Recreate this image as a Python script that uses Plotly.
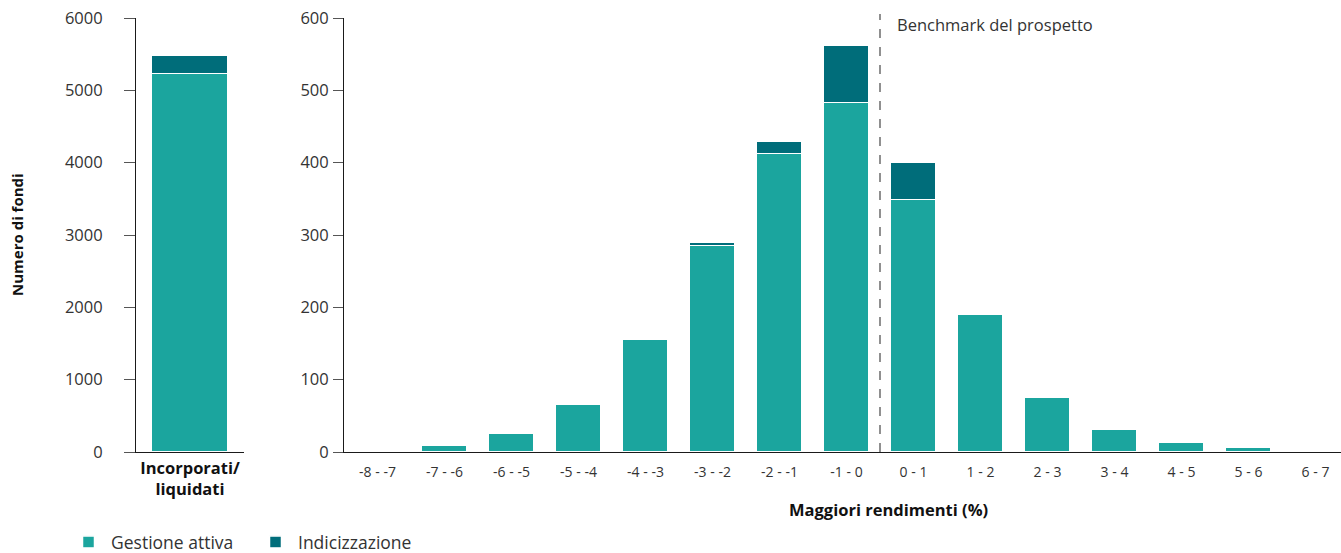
import plotly.graph_objects as go

# ---- data ----
left_category = ["Incorporati/<br>liquidati"]
left_attiva = [5230]
left_indicizzazione = [240]

categories = ["-8 - -7", "-7 - -6", "-6 - -5", "-5 - -4", "-4 - -3", "-3 - -2", "-2 - -1",
              "-1 - 0", "0 - 1", "1 - 2", "2 - 3", "3 - 4", "4 - 5", "5 - 6", "6 - 7"]
attiva = [0, 8, 25, 65, 155, 285, 412, 483, 349, 190, 75, 30, 13, 6, 0]
indicizzazione = [0, 0, 0, 0, 0, 4, 17, 78, 51, 0, 0, 0, 0, 0, 0]

left_ticks = [0, 1000, 2000, 3000, 4000, 5000, 6000]
right_ticks = [0, 100, 200, 300, 400, 500, 600]

GREEN = "#1ba59e"
DARK = "#006d7a"
FONT = "Open Sans"
W, H = 1341, 553
T, B = 18, 101

fig = go.Figure()
fig.add_trace(go.Bar(x=left_category, y=left_attiva, name="Gestione attiva", marker=dict(color=GREEN, line=dict(color="white", width=1.5)),
                     width=0.7, xaxis="x", yaxis="y", showlegend=True, legendgroup="a"))
fig.add_trace(go.Bar(x=left_category, y=left_indicizzazione, name="Indicizzazione", marker=dict(color=DARK, line=dict(color="white", width=1.5)),
                     width=0.7, xaxis="x", yaxis="y", showlegend=True, legendgroup="b"))
fig.add_trace(go.Bar(x=categories, y=attiva, name="Gestione attiva", marker=dict(color=GREEN, line=dict(color="white", width=1.5)),
                     width=0.67, xaxis="x2", yaxis="y2", showlegend=False, legendgroup="a"))
fig.add_trace(go.Bar(x=categories, y=indicizzazione, name="Indicizzazione", marker=dict(color=DARK, line=dict(color="white", width=1.5)),
                     width=0.67, xaxis="x2", yaxis="y2", showlegend=False, legendgroup="b"))

axis_common = dict(showgrid=False, zeroline=False, showline=True, linecolor="#1a1a1a", linewidth=1, automargin=False)
plot_h = H - T - B

fig.update_layout(
    width=W, height=H,
    margin=dict(l=0, r=0, t=T, b=B),
    barmode="stack",
    plot_bgcolor="white", paper_bgcolor="white",
    font=dict(family=FONT, size=15, color="#333333"),
    bargap=0,
    xaxis=dict(domain=[136 / W, 244 / W], type="category", range=[-0.5, 0.5], ticks="",
               tickfont=dict(size=16.5, color="#111111", weight="bold"), anchor="y",
               ticklabelstandoff=1, **axis_common),
    yaxis=dict(range=[0, 6000], tickvals=left_ticks, ticks="outside", ticklen=11, tickcolor="#555555",
               ticklabelstandoff=18, tickfont=dict(size=16.5, color="#333333"), anchor="x", **axis_common),
    xaxis2=dict(domain=[344 / W, 1.0], type="category", range=[-0.5, -0.5 + 997 / 67.0], ticks="",
                tickfont=dict(size=14, color="#333333"), anchor="y2", ticklabelstandoff=7, **axis_common),
    yaxis2=dict(range=[0, 600], tickvals=right_ticks, ticks="outside", ticklen=10, tickcolor="#555555",
                ticklabelstandoff=1, tickfont=dict(size=16.5, color="#333333"), anchor="x2", **axis_common),
    legend=dict(orientation="h", xref="container", yref="container", x=66 / W, y=1 - 542 / H,
                xanchor="left", yanchor="middle", itemwidth=35,
                entrywidth=137, entrywidthmode="pixels",
                font=dict(size=17.5, color="#333333"), traceorder="normal"),
)

fig.add_shape(type="line", xref="x2", yref="paper", x0=7.5, x1=7.5, y0=0, y1=(452 - 14) / plot_h,
              line=dict(color="#555555", width=1.3, dash="dash"))

fig.add_annotation(text="Benchmark del prospetto", xref="x2", yref="paper", x=7.5, xshift=15,
                   y=(452 - 24) / plot_h, xanchor="left", yanchor="middle", showarrow=False,
                   font=dict(size=16.5, color="#333333"))
fig.add_annotation(text="<b>Numero di fondi</b>", xref="paper", yref="paper", x=17 / W, y=0.5,
                   textangle=-90, showarrow=False, xanchor="center", yanchor="middle",
                   font=dict(size=15, color="#111111"))
fig.add_annotation(text="<b>Maggiori rendimenti (%)</b>", xref="paper", yref="paper", x=888 / W,
                   y=(452 - 509) / plot_h, showarrow=False, xanchor="center", yanchor="middle",
                   font=dict(size=16.5, color="#111111"))

fig.write_html("out.html", config={"displayModeBar": False},
               post_script="document.body.style.margin='0px';")
